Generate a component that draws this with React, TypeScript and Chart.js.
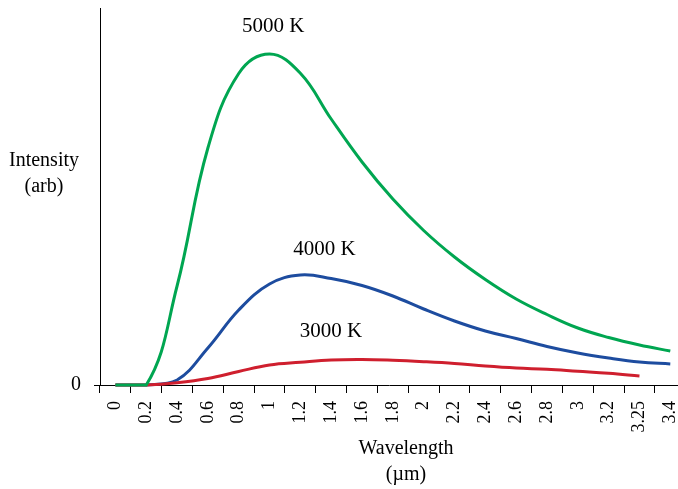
import { useEffect, useRef } from "react";
import { Chart, registerables } from "chart.js";

Chart.register(...registerables);

// Category tick labels (wavelength, µm) as printed on the axis
const wavelengthLabels = [
  "0", "0.2", "0.4", "0.6", "0.8", "1", "1.2", "1.4", "1.6", "1.8",
  "2", "2.2", "2.4", "2.6", "2.8", "3", "3.2", "3.25", "3.4",
];

// Intensity (arbitrary units) read at each category
const intensity5000K = [0, 0, 99, 237, 311.5, 331, 311.7, 266, 223, 186, 154.5, 128, 105.5, 86, 70.5, 57, 47.5, 40, 34];
const intensity4000K = [0, 0, 5, 37, 75, 101, 110, 106.5, 99.5, 89, 76, 64, 54, 46.5, 38.5, 32, 27, 23, 21];
const intensity3000K = [0, 0, 2.3, 6.5, 13.5, 20, 22.7, 25, 25.5, 24.7, 23.3, 21.5, 19, 17, 15.7, 13.7, 11.7, 9, null];

const seriesNames = ["5000 K", "4000 K", "3000 K"];
const seriesColors = ["#00a651", "#1d4c9f", "#cf1f2e"];
const yTickValues = [0];
const yMax = 377;

const SERIF = '"Liberation Serif", "Times New Roman", serif';

// label anchors in data units (category index, intensity)
const seriesLabelAnchors = [
  { x: 5.12, y: 359 },
  { x: 6.78, y: 136 },
  { x: 6.99, y: 54 },
];

const textPlugin = {
  id: "extraTexts",
  afterDraw(chart: any) {
    const { ctx, scales } = chart;
    const xs = scales.x;
    const ys = scales.y;
    ctx.save();
    ctx.fillStyle = "#000";
    ctx.textAlign = "center";
    ctx.textBaseline = "middle";
    ctx.font = `21px ${SERIF}`;
    seriesNames.forEach((name, i) => {
      const a = seriesLabelAnchors[i];
      ctx.fillText(name, xs.getPixelForValue(a.x), ys.getPixelForValue(a.y));
    });
    ctx.font = `20px ${SERIF}`;
    ctx.fillText("Intensity", 44, 161);
    ctx.fillText("(arb)", 44, 187);
    ctx.fillText("Wavelength", 406, 449);
    ctx.fillText("(µm)", 406, 475);
    ctx.restore();
  },
};

const zeroPadding = (scale: any) => {
  scale.paddingTop = 0;
  scale.paddingBottom = 0;
  scale.paddingLeft = 0;
  scale.paddingRight = 0;
};

export default function App() {
  const ref = useRef<HTMLCanvasElement | null>(null);

  useEffect(() => {
    if (!ref.current) return;
    const mk = (data: (number | null)[], color: string) => ({
      data: data.map((v, i) => ({ x: i, y: v })),
      borderColor: color,
      backgroundColor: color,
      borderWidth: 3,
      pointRadius: 0,
      tension: 0.4,
      clip: false as const,
      spanGaps: false,
    });
    const chart = new Chart(ref.current, {
      type: "line",
      data: {
        datasets: [
          mk(intensity5000K, seriesColors[0]),
          mk(intensity3000K, seriesColors[2]),
          mk(intensity4000K, seriesColors[1]),
        ],
      },
      options: {
        animation: false,
        responsive: true,
        maintainAspectRatio: false,
        layout: { padding: { top: 8, left: 0, right: 0, bottom: 0 } },
        plugins: { legend: { display: false }, tooltip: { enabled: false } },
        scales: {
          x: {
            type: "linear",
            min: -0.5,
            max: 18.25,
            afterBuildTicks: (scale: any) => {
              scale.ticks = wavelengthLabels.map((_, i) => ({ value: i }));
            },
            afterFit: (scale: any) => {
              scale.height = 104;
              zeroPadding(scale);
            },
            ticks: {
              autoSkip: false,
              minRotation: 90,
              maxRotation: 90,
              padding: 8,
              color: "#000",
              font: { family: SERIF, size: 18 },
              callback: (v: any) => wavelengthLabels[Math.round(Number(v))] ?? "",
            },
            grid: {
              offset: true,
              drawOnChartArea: false,
              tickLength: 8,
              color: "#000",
              lineWidth: 1,
            },
            border: { display: true, color: "#000", width: 1 },
          },
          y: {
            type: "linear",
            min: 0,
            max: yMax,
            afterBuildTicks: (scale: any) => {
              scale.ticks = yTickValues.map((v) => ({ value: v }));
            },
            afterFit: (scale: any) => {
              scale.width = 100;
              zeroPadding(scale);
            },
            ticks: {
              padding: 13,
              color: "#000",
              font: { family: SERIF, size: 20 },
              callback: (v: any) => String(v),
            },
            grid: {
              drawOnChartArea: false,
              tickLength: 6,
              color: "#000",
              lineWidth: 1,
            },
            border: { display: true, color: "#000", width: 1 },
          },
        },
      },
      plugins: [textPlugin],
    });
    return () => chart.destroy();
  }, []);

  return (
    <div style={{ position: "fixed", left: 0, top: 0, width: 678, height: 489, background: "#fff" }}>
      <canvas ref={ref} />
    </div>
  );
}
